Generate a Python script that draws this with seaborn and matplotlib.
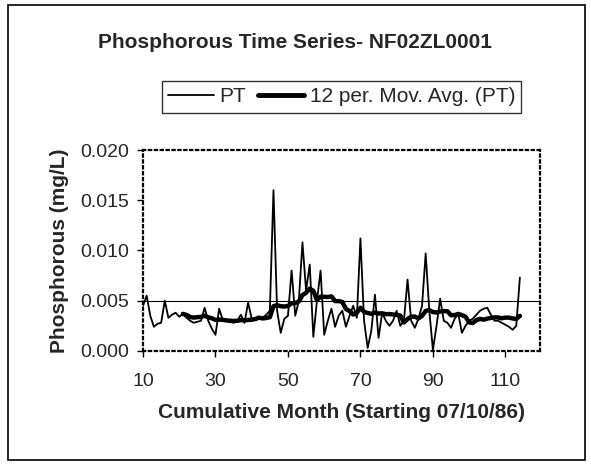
import numpy as np
import pandas as pd
import seaborn as sns
import matplotlib.pyplot as plt
from matplotlib.patches import Rectangle
from matplotlib.lines import Line2D
from matplotlib.ticker import FormatStrFormatter

# Monthly phosphorous readings (mg/L), cumulative month 10..114
months = list(range(10, 115))
pt = [
    0.0045, 0.0055, 0.0035, 0.0024, 0.0027, 0.0028, 0.0050, 0.0033, 0.0036, 0.0038,  # 10-19
    0.0034, 0.0037, 0.0033, 0.0030, 0.0028, 0.0029, 0.0030, 0.0043, 0.0030, 0.0022,  # 20-29
    0.0016, 0.0042, 0.0031, 0.0030, 0.0029, 0.0028, 0.0030, 0.0036, 0.0028, 0.0048,  # 30-39
    0.0032, 0.0031, 0.0032, 0.0033, 0.0036, 0.0040, 0.0160, 0.0040, 0.0018, 0.0032,  # 40-49
    0.0035, 0.0080, 0.0035, 0.0050, 0.0108, 0.0060, 0.0086, 0.0014, 0.0050, 0.0080,  # 50-59
    0.0016, 0.0030, 0.0042, 0.0024, 0.0035, 0.0040, 0.0024, 0.0035, 0.0045, 0.0033,  # 60-69
    0.0112, 0.0030, 0.0003, 0.0020, 0.0056, 0.0013, 0.0038, 0.0030, 0.0025, 0.0030,  # 70-79
    0.0040, 0.0025, 0.0030, 0.0071, 0.0030, 0.0023, 0.0032, 0.0045, 0.0097, 0.0040,  # 80-89
    0.0001, 0.0025, 0.0052, 0.0030, 0.0028, 0.0023, 0.0032, 0.0037, 0.0018, 0.0025,  # 90-99
    0.0030, 0.0032, 0.0036, 0.0040, 0.0042, 0.0043, 0.0036, 0.0030, 0.0030, 0.0028,  # 100-109
    0.0026, 0.0024, 0.0021, 0.0025, 0.0073,                                          # 110-114
]
guide_level = 0.005
x_ticks = [10, 30, 50, 70, 90, 110]
y_ticks = [0.000, 0.005, 0.010, 0.015, 0.020]

df = pd.DataFrame({"month": months, "PT": pt})
# Excel-style 12 period moving average
df["MA"] = df["PT"].rolling(window=12).mean()

sns.set_theme(style="white")
plt.rcParams["font.family"] = ["Liberation Sans", "DejaVu Sans"]

fig = plt.figure(figsize=(5.91, 4.66), dpi=100)
ax = fig.add_axes([0.242, 0.247, 0.672, 0.431])

ax.axhline(guide_level, color="black", linewidth=0.8, zorder=1)
sns.lineplot(data=df, x="month", y="PT", ax=ax, color="black", linewidth=1.3, zorder=3)
sns.lineplot(data=df, x="month", y="MA", ax=ax, color="black", linewidth=3.2, zorder=2)

ax.set_xlim(10, 119.6)
ax.set_ylim(0, 0.02)
ax.set_xticks(x_ticks)
ax.set_yticks(y_ticks)
ax.yaxis.set_major_formatter(FormatStrFormatter("%.3f"))
ax.tick_params(axis="both", direction="out", length=4, width=1, color="black",
               labelsize=14, bottom=True, left=True)
ax.tick_params(axis="y", pad=6)
ax.tick_params(axis="x", pad=12)

for side, sp in ax.spines.items():
    sp.set_color("black")
    sp.set_linewidth(1.6)
    sp.set_linestyle(":")

ax.set_xlabel("Cumulative Month (Starting 07/10/86)", fontsize=15, fontweight="bold", labelpad=9)
ax.set_ylabel("Phosphorous (mg/L)", fontsize=15, fontweight="bold", labelpad=8)

fig.text(0.50, 0.908, "Phosphorous Time Series- NF02ZL0001", ha="center", va="center",
         fontsize=15, fontweight="bold")

handles = [Line2D([], [], color="black", linewidth=1.3),
           Line2D([], [], color="black", linewidth=3.5)]
leg = fig.legend(handles, ["PT", "12 per. Mov. Avg. (PT)"], loc="center",
                 bbox_to_anchor=(0.578, 0.792), ncol=2, frameon=True, fancybox=False,
                 fontsize=15, handlelength=2.2, handletextpad=0.25, columnspacing=0.6,
                 borderpad=0.3, borderaxespad=0)
leg.get_frame().set_edgecolor("black")
leg.get_frame().set_linewidth(1.0)

fig.add_artist(Rectangle((0.0135, 0.013), 0.976, 0.976, transform=fig.transFigure,
                         fill=False, edgecolor="black", linewidth=1.2))

fig.savefig("out.png", dpi=100)
